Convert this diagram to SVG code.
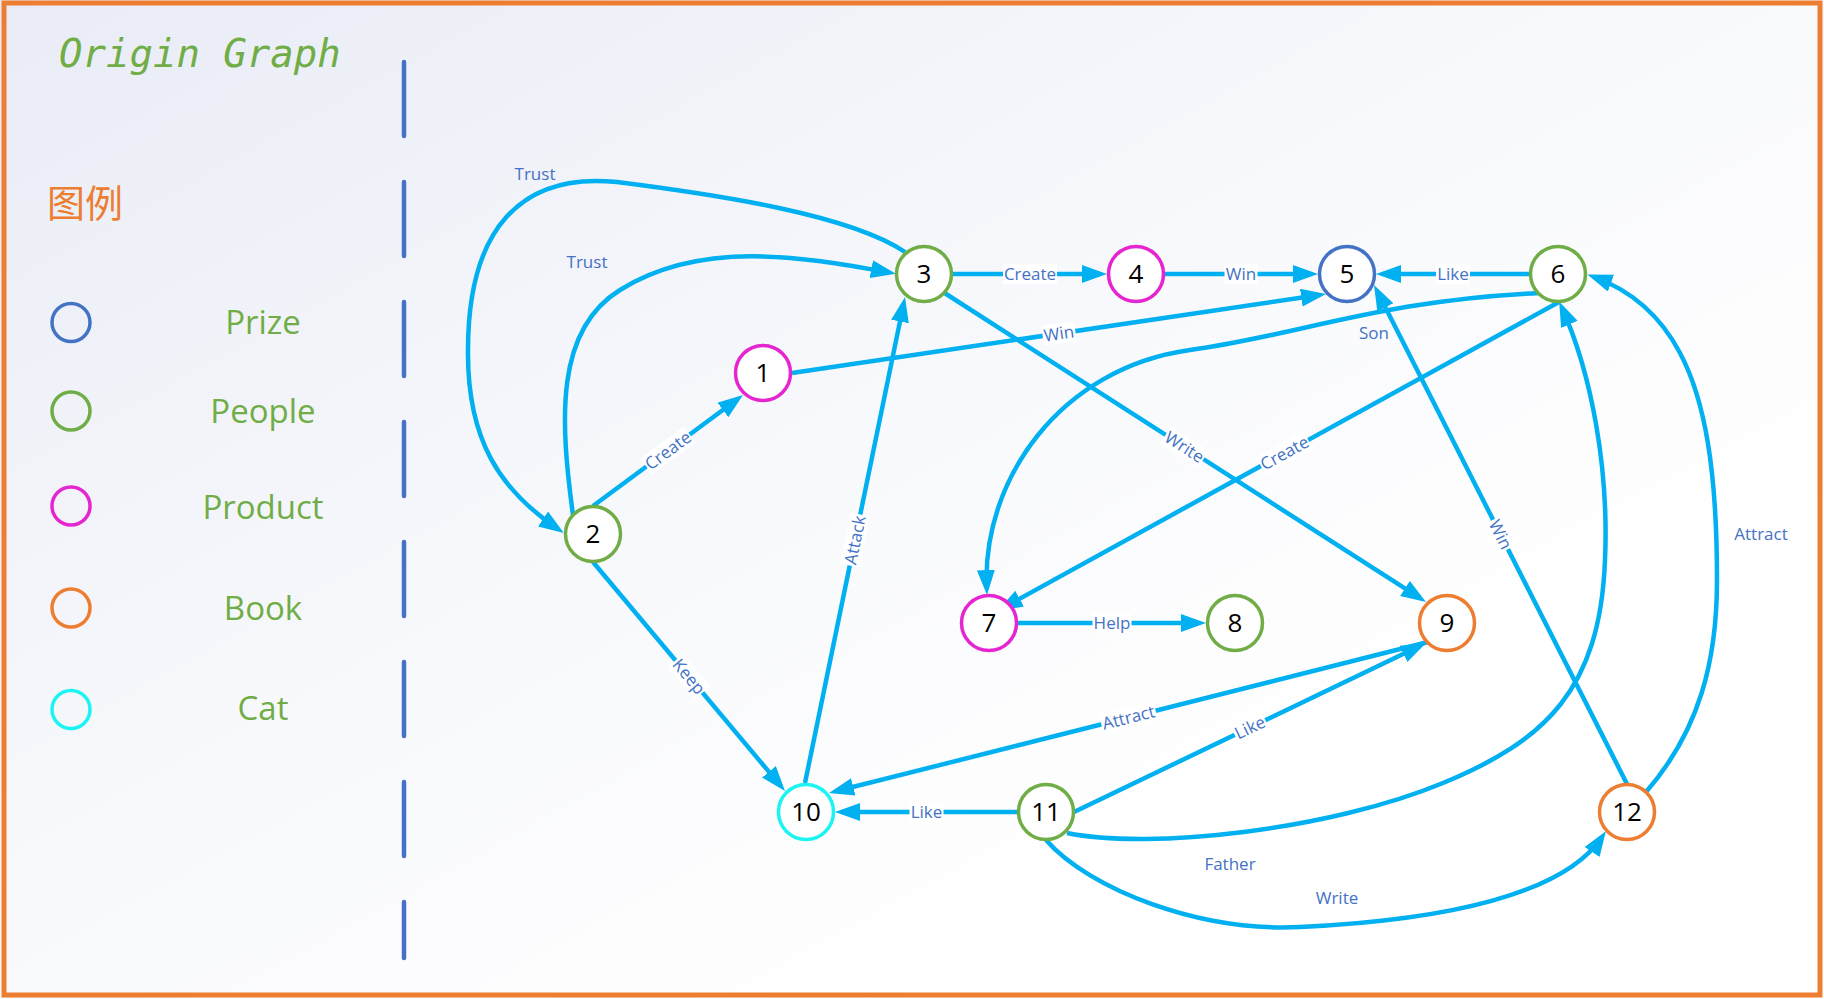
<svg xmlns="http://www.w3.org/2000/svg" width="1824" height="999" viewBox="0 0 1824 999">
<defs>
<linearGradient id="bg" x1="0" y1="0" x2="1" y2="1">
<stop offset="0" stop-color="#E9ECF6"/>
<stop offset="0.45" stop-color="#F8F9FC"/>
<stop offset="0.75" stop-color="#FFFFFF"/>
</linearGradient>
<marker id="arr" markerUnits="userSpaceOnUse" markerWidth="26" markerHeight="20" refX="18" refY="9" orient="auto">
<path d="M0,0 L25,9 L0,18 z" fill="#00B0F0"/>
</marker>
<style>
.node circle{fill:#FFFFFF;stroke-width:3.5}
.node text{font-family:"Open Sans","Noto Sans",sans-serif;font-size:26px;fill:#000000;text-anchor:middle}
.g{stroke:#70AD47}.m{stroke:#E526D0}.b{stroke:#4472C4}.o{stroke:#ED7D31}.c{stroke:#1CF4F4}
.e{fill:none;stroke:#00B0F0;stroke-width:4.5}
.ea{marker-end:url(#arr)}
.lbl{font-family:"Open Sans","Noto Sans",sans-serif;font-size:17px;fill:#4472C4;text-anchor:middle}
.lbg{fill:#FFFFFF}
.leg circle{fill:none;stroke-width:3.5}
.leg text{font-family:"Open Sans","Noto Sans",sans-serif;font-size:33px;fill:#70AD47;text-anchor:middle}
</style>
</defs>
<rect x="0" y="0" width="1824" height="999" fill="url(#bg)"/>
<rect x="4" y="3" width="1816" height="992" fill="none" stroke="#ED7D31" stroke-width="5"/>
<text x="59" y="67" font-family="'DejaVu Sans Mono','Liberation Mono',monospace" font-style="italic" font-size="39" fill="#70AD47">Origin Graph</text>
<line x1="404" y1="62" x2="404" y2="958" stroke="#4472C4" stroke-width="4.5" stroke-linecap="round" stroke-dasharray="74 46"/>
<text x="47" y="217" font-family="'Noto Sans CJK SC',sans-serif" font-size="38" fill="#ED7D31">图例</text>
<g id="legend" class="leg">
<circle cx="71" cy="322.5" r="19" class="b"/><text x="263" y="334">Prize</text>
<circle cx="71" cy="411" r="19" class="g"/><text x="263" y="423">People</text>
<circle cx="71" cy="506" r="19" class="m"/><text x="263" y="519">Product</text>
<circle cx="71" cy="608" r="19" class="o"/><text x="263" y="620">Book</text>
<circle cx="71" cy="709.5" r="19" class="c"/><text x="263" y="720">Cat</text>
</g>
<g id="connectors">
<path class="e ea" d="M905,252 C850,215 720,195 617,182 C520,172 468,230 468,350 C467,440 500,490 558,529"/>
<path class="e ea" d="M573,515 C560,420 555,330 620,290 C700,240 800,256 889,272.5"/>
<path class="e ea" d="M593,506 L737.4,399.2"/>
<path class="e ea" d="M792,373 L1319.1,295"/>
<path class="e ea" d="M952,274 L1100,274"/>
<path class="e ea" d="M1164,274 L1311,274"/>
<path class="e ea" d="M1530,274 L1383,274"/>
<path class="e ea" d="M943,292 L1420.1,598.2"/>
<path class="e ea" d="M1540,293 C1380,300 1300,335 1190,350 C1060,368 982,480 986.7,588"/>
<path class="e ea" d="M1559,302 L1003.9,607.4"/>
<path class="e ea" d="M1017,623 L1199,623"/>
<path class="e ea" d="M1627,784 L1377.2,291.2"/>
<path class="e ea" d="M1646,792 C1700,730 1717,660 1717,580 C1717,470 1705,400 1680,353 C1660,315 1630,290 1594,277"/>
<path class="e ea" d="M1067,833 C1150,850 1330,830 1443,783 C1545,741 1600,690 1605,560 C1609,470 1592,375 1562,308"/>
<path class="e ea" d="M1046,840 C1090,890 1200,932 1300,927 C1450,920 1565,893 1602,837"/>
<path class="e ea" d="M1074,812 L1419.7,646"/>
<path class="e ea" d="M1428,642 L835.8,791.3"/>
<path class="e ea" d="M1018,812 L842,812"/>
<path class="e ea" d="M593,562 L780.5,785.6"/>
<path class="e ea" d="M805,783 L903.6,303.9"/>
<text class="lbl" x="535" y="180">Trust</text>
<text class="lbl" x="587" y="268">Trust</text>
<text class="lbl" x="1374" y="339">Son</text>
<text class="lbl" x="1761" y="540">Attract</text>
<text class="lbl" x="1230" y="870">Father</text>
<text class="lbl" x="1337" y="904">Write</text>
<g transform="translate(668,450.5) rotate(-36.5)"><rect class="lbg" x="-27" y="-10" width="54" height="20"/><text class="lbl" y="6">Create</text></g>
<g transform="translate(1059,333.5) rotate(-8.4)"><rect class="lbg" x="-16.5" y="-10" width="33" height="20"/><text class="lbl" y="6">Win</text></g>
<g transform="translate(1030,274)"><rect class="lbg" x="-27" y="-10" width="54" height="20"/><text class="lbl" y="6">Create</text></g>
<g transform="translate(1241,274)"><rect class="lbg" x="-16.5" y="-10" width="33" height="20"/><text class="lbl" y="6">Win</text></g>
<g transform="translate(1453,274)"><rect class="lbg" x="-17" y="-10" width="34" height="20"/><text class="lbl" y="6">Like</text></g>
<g transform="translate(1184.5,447) rotate(32.7)"><rect class="lbg" x="-22.5" y="-10" width="45" height="20"/><text class="lbl" y="6">Write</text></g>
<g transform="translate(1284.5,453) rotate(-28.8)"><rect class="lbg" x="-27" y="-10" width="54" height="20"/><text class="lbl" y="6">Create</text></g>
<g transform="translate(1112,623)"><rect class="lbg" x="-19.5" y="-10" width="39" height="20"/><text class="lbl" y="6">Help</text></g>
<g transform="translate(1500.5,534.5) rotate(63.1)"><rect class="lbg" x="-16.5" y="-10" width="33" height="20"/><text class="lbl" y="6">Win</text></g>
<g transform="translate(1250,727.5) rotate(-25.6)"><rect class="lbg" x="-17" y="-10" width="34" height="20"/><text class="lbl" y="6">Like</text></g>
<g transform="translate(1128.5,717.5) rotate(-14.1)"><rect class="lbg" x="-28" y="-10" width="56" height="20"/><text class="lbl" y="6">Attract</text></g>
<g transform="translate(926.5,812)"><rect class="lbg" x="-17" y="-10" width="34" height="20"/><text class="lbl" y="6">Like</text></g>
<g transform="translate(689,676.5) rotate(50)"><rect class="lbg" x="-21" y="-10" width="42" height="20"/><text class="lbl" y="6">Keep</text></g>
<g transform="translate(855,540) rotate(-78.4)"><rect class="lbg" x="-26" y="-10" width="52" height="20"/><text class="lbl" y="6">Attack</text></g>
</g>
<g id="node1" class="node"><circle cx="763" cy="373" r="27.5" class="m"/><text x="763" y="382">1</text></g>
<g id="node2" class="node"><circle cx="593" cy="534" r="27.5" class="g"/><text x="593" y="543">2</text></g>
<g id="node3" class="node"><circle cx="924" cy="274" r="27.5" class="g"/><text x="924" y="283">3</text></g>
<g id="node4" class="node"><circle cx="1136" cy="274" r="27.5" class="m"/><text x="1136" y="283">4</text></g>
<g id="node5" class="node"><circle cx="1347" cy="274" r="27.5" class="b"/><text x="1347" y="283">5</text></g>
<g id="node6" class="node"><circle cx="1558" cy="274" r="27.5" class="g"/><text x="1558" y="283">6</text></g>
<g id="node7" class="node"><circle cx="989" cy="623" r="27.5" class="m"/><text x="989" y="632">7</text></g>
<g id="node8" class="node"><circle cx="1235" cy="623" r="27.5" class="g"/><text x="1235" y="632">8</text></g>
<g id="node9" class="node"><circle cx="1447" cy="623" r="27.5" class="o"/><text x="1447" y="632">9</text></g>
<g id="node10" class="node"><circle cx="806" cy="812" r="27.5" class="c"/><text x="806" y="821">10</text></g>
<g id="node11" class="node"><circle cx="1046" cy="812" r="27.5" class="g"/><text x="1046" y="821">11</text></g>
<g id="node12" class="node"><circle cx="1627" cy="812" r="27.5" class="o"/><text x="1627" y="821">12</text></g>
</svg>
